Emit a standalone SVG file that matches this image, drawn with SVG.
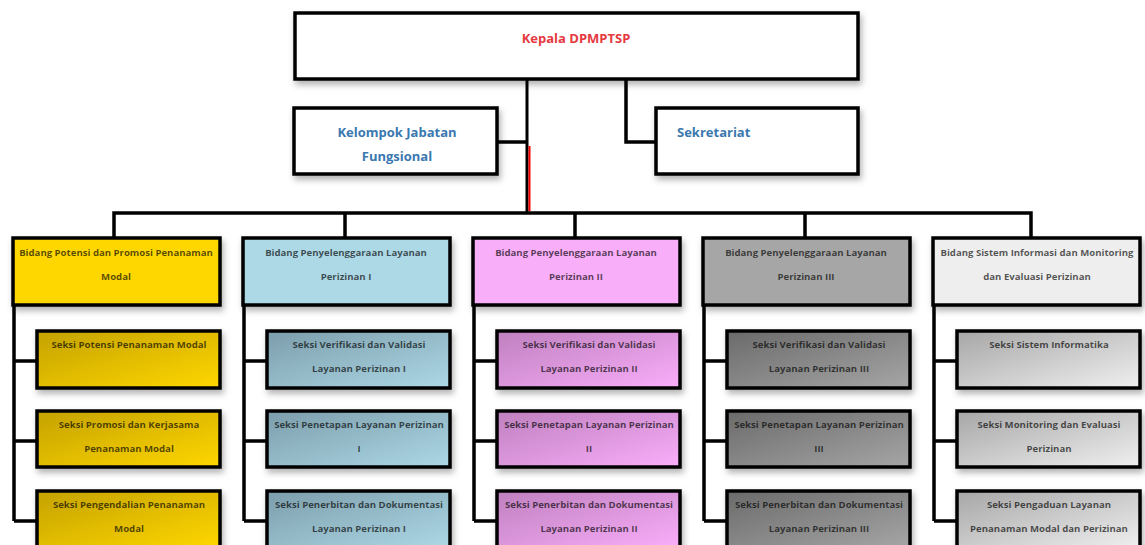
<svg xmlns="http://www.w3.org/2000/svg" width="1145" height="545" viewBox="0 0 1145 545">
<defs>
  <filter id="sh" x="-10%" y="-20%" width="130%" height="150%">
    <feDropShadow dx="2" dy="4" stdDeviation="3" flood-color="#000" flood-opacity="0.3"/>
  </filter>
  <linearGradient id="gY" x1="0" y1="0" x2="1" y2="1"><stop offset="0" stop-color="#c4a200"/><stop offset="1" stop-color="#ffd700"/></linearGradient>
  <linearGradient id="gB" x1="0" y1="0" x2="1" y2="1"><stop offset="0" stop-color="#7c9dab"/><stop offset="1" stop-color="#add8e6"/></linearGradient>
  <linearGradient id="gP" x1="0" y1="0" x2="1" y2="1"><stop offset="0" stop-color="#bf80bf"/><stop offset="1" stop-color="#f9aef9"/></linearGradient>
  <linearGradient id="gG" x1="0" y1="0" x2="1" y2="1"><stop offset="0" stop-color="#6a6a6a"/><stop offset="1" stop-color="#a6a6a6"/></linearGradient>
  <linearGradient id="gL" x1="0" y1="0" x2="1" y2="1"><stop offset="0" stop-color="#a6a6a6"/><stop offset="1" stop-color="#f0f0f0"/></linearGradient>
</defs>
<style>
  .box{stroke:#000;stroke-width:3.5;filter:url(#sh)}
  .ln{stroke:#000;stroke-width:3.5;fill:none}
  .t{font-family:"Open Sans","Noto Sans",sans-serif;font-weight:700;font-size:9.6px;fill:#000;fill-opacity:0.66;text-anchor:middle}
  .top{font-family:"Open Sans","Noto Sans",sans-serif;font-weight:700;font-size:13px;text-anchor:middle}
</style>
<rect width="1145" height="545" fill="#fff"/>

<g id="connectors">
  <path class="ln" d="M527 79 V213" style="stroke-width:3"/>
  <line x1="529.5" y1="146" x2="529.5" y2="211" stroke="#ff0000" stroke-width="2"/>
  <path class="ln" d="M626 79 V142 H656"/>
  <path class="ln" d="M497 142 H527"/>
  <path class="ln" d="M114 238 V213 H1031 V238"/>
  <path class="ln" d="M345 213 V238 M575 213 V238 M805 213 V238"/>
  <path class="ln" d="M14 305 V521 M14 361 H37 M14 441 H37 M14 521 H37"/>
  <path class="ln" d="M244 305 V521 M244 361 H267 M244 441 H267 M244 521 H267"/>
  <path class="ln" d="M474 305 V521 M474 361 H497 M474 441 H497 M474 521 H497"/>
  <path class="ln" d="M704 305 V521 M704 361 H727 M704 441 H727 M704 521 H727"/>
  <path class="ln" d="M934 305 V521 M934 361 H957 M934 441 H957 M934 521 H957"/>
</g>

<g id="kepala">
  <rect class="box" x="295" y="13" width="563" height="66" fill="#fff" stroke-width="4"/>
  <text class="top" x="576" y="43" fill="#e5393f">Kepala DPMPTSP</text>
</g>
<g id="kelompok">
  <rect class="box" x="294" y="108" width="203" height="66" fill="#fff"/>
  <text class="top" x="397" y="137" fill="#3a78b0">Kelompok Jabatan</text>
  <text class="top" x="397" y="161" fill="#3a78b0">Fungsional</text>
</g>
<g id="sekretariat">
  <rect class="box" x="656" y="108" width="202" height="66" fill="#fff"/>
  <text class="top" x="677" y="137" fill="#3a78b0" style="text-anchor:start">Sekretariat</text>
</g>

<!-- Column 1 -->
<g id="bidang1">
  <rect class="box" x="13" y="238" width="207" height="67" fill="#ffd700"/>
  <text class="t" x="116" y="256">Bidang Potensi dan Promosi Penanaman</text>
  <text class="t" x="116" y="280">Modal</text>
</g>
<g id="seksi1a">
  <rect class="box" x="37" y="331" width="183" height="57" fill="url(#gY)"/>
  <text class="t" x="129" y="348">Seksi Potensi Penanaman Modal</text>
</g>
<g id="seksi1b">
  <rect class="box" x="37" y="411" width="183" height="56" fill="url(#gY)"/>
  <text class="t" x="129" y="428">Seksi Promosi dan Kerjasama</text>
  <text class="t" x="129" y="452">Penanaman Modal</text>
</g>
<g id="seksi1c">
  <rect class="box" x="37" y="491" width="183" height="57" fill="url(#gY)"/>
  <text class="t" x="129" y="508">Seksi Pengendalian Penanaman</text>
  <text class="t" x="129" y="532">Modal</text>
</g>

<!-- Column 2 -->
<g id="bidang2">
  <rect class="box" x="243" y="238" width="207" height="67" fill="#add8e6"/>
  <text class="t" x="346" y="256">Bidang Penyelenggaraan Layanan</text>
  <text class="t" x="346" y="280">Perizinan I</text>
</g>
<g id="seksi2a">
  <rect class="box" x="267" y="331" width="183" height="57" fill="url(#gB)"/>
  <text class="t" x="359" y="348">Seksi Verifikasi dan Validasi</text>
  <text class="t" x="359" y="372">Layanan Perizinan I</text>
</g>
<g id="seksi2b">
  <rect class="box" x="267" y="411" width="183" height="56" fill="url(#gB)"/>
  <text class="t" x="359" y="428">Seksi Penetapan Layanan Perizinan</text>
  <text class="t" x="359" y="452">I</text>
</g>
<g id="seksi2c">
  <rect class="box" x="267" y="491" width="183" height="57" fill="url(#gB)"/>
  <text class="t" x="359" y="508">Seksi Penerbitan dan Dokumentasi</text>
  <text class="t" x="359" y="532">Layanan Perizinan I</text>
</g>

<!-- Column 3 -->
<g id="bidang3">
  <rect class="box" x="473" y="238" width="207" height="67" fill="#f9aef9"/>
  <text class="t" x="576" y="256">Bidang Penyelenggaraan Layanan</text>
  <text class="t" x="576" y="280">Perizinan II</text>
</g>
<g id="seksi3a">
  <rect class="box" x="497" y="331" width="183" height="57" fill="url(#gP)"/>
  <text class="t" x="589" y="348">Seksi Verifikasi dan Validasi</text>
  <text class="t" x="589" y="372">Layanan Perizinan II</text>
</g>
<g id="seksi3b">
  <rect class="box" x="497" y="411" width="183" height="56" fill="url(#gP)"/>
  <text class="t" x="589" y="428">Seksi Penetapan Layanan Perizinan</text>
  <text class="t" x="589" y="452">II</text>
</g>
<g id="seksi3c">
  <rect class="box" x="497" y="491" width="183" height="57" fill="url(#gP)"/>
  <text class="t" x="589" y="508">Seksi Penerbitan dan Dokumentasi</text>
  <text class="t" x="589" y="532">Layanan Perizinan II</text>
</g>

<!-- Column 4 -->
<g id="bidang4">
  <rect class="box" x="703" y="238" width="207" height="67" fill="#a6a6a6"/>
  <text class="t" x="806" y="256">Bidang Penyelenggaraan Layanan</text>
  <text class="t" x="806" y="280">Perizinan III</text>
</g>
<g id="seksi4a">
  <rect class="box" x="727" y="331" width="183" height="57" fill="url(#gG)"/>
  <text class="t" x="819" y="348">Seksi Verifikasi dan Validasi</text>
  <text class="t" x="819" y="372">Layanan Perizinan III</text>
</g>
<g id="seksi4b">
  <rect class="box" x="727" y="411" width="183" height="56" fill="url(#gG)"/>
  <text class="t" x="819" y="428">Seksi Penetapan Layanan Perizinan</text>
  <text class="t" x="819" y="452">III</text>
</g>
<g id="seksi4c">
  <rect class="box" x="727" y="491" width="183" height="57" fill="url(#gG)"/>
  <text class="t" x="819" y="508">Seksi Penerbitan dan Dokumentasi</text>
  <text class="t" x="819" y="532">Layanan Perizinan III</text>
</g>

<!-- Column 5 -->
<g id="bidang5">
  <rect class="box" x="933" y="238" width="207" height="67" fill="#eeeeee"/>
  <text class="t" x="1037" y="256">Bidang Sistem Informasi dan Monitoring</text>
  <text class="t" x="1037" y="280">dan Evaluasi Perizinan</text>
</g>
<g id="seksi5a">
  <rect class="box" x="957" y="331" width="183" height="57" fill="url(#gL)"/>
  <text class="t" x="1049" y="348">Seksi Sistem Informatika</text>
</g>
<g id="seksi5b">
  <rect class="box" x="957" y="411" width="183" height="56" fill="url(#gL)"/>
  <text class="t" x="1049" y="428">Seksi Monitoring dan Evaluasi</text>
  <text class="t" x="1049" y="452">Perizinan</text>
</g>
<g id="seksi5c">
  <rect class="box" x="957" y="491" width="183" height="57" fill="url(#gL)"/>
  <text class="t" x="1049" y="508">Seksi Pengaduan Layanan</text>
  <text class="t" x="1049" y="532">Penanaman Modal dan Perizinan</text>
</g>
</svg>
